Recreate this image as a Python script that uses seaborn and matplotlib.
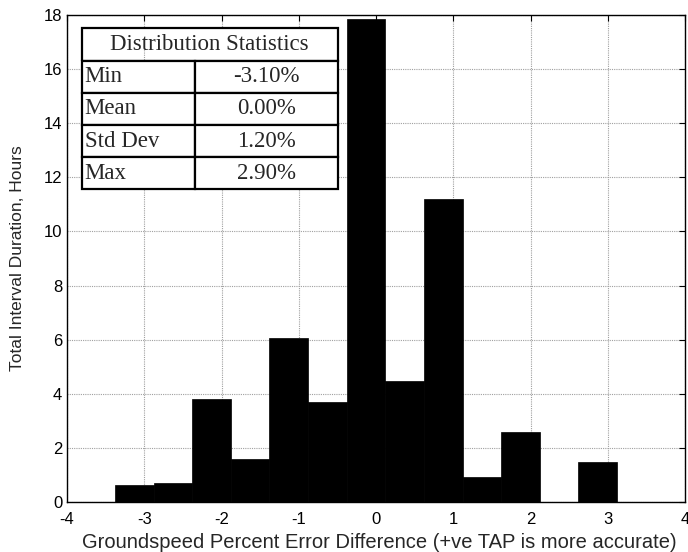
import numpy as np
import pandas as pd
import matplotlib
matplotlib.use("Agg")
import matplotlib.pyplot as plt
import seaborn as sns

# Histogram bins (percent error difference) and duration per bin (hours)
bin_centers = [-3.13, -2.63, -2.13, -1.63, -1.13, -0.63, -0.13, 0.37, 0.87, 1.37, 1.87, 2.37, 2.87]
hours = [0.64, 0.69, 3.80, 1.59, 6.07, 3.70, 17.85, 4.48, 11.21, 0.91, 2.58, 0.0, 1.47]
bin_edges = [-3.38, -2.88, -2.38, -1.88, -1.38, -0.88, -0.38, 0.12, 0.62, 1.12, 1.62, 2.12, 2.62, 3.12]

# Table contents
stat_names = ["Min", "Mean", "Std Dev", "Max"]
stat_values = ["-3.10%", "0.00%", "1.20%", "2.90%"]
table_title = "Distribution Statistics"

x_ticks = [-4, -3, -2, -1, 0, 1, 2, 3, 4]
y_ticks = [0, 2, 4, 6, 8, 10, 12, 14, 16, 18]

SERIF = ["Liberation Serif", "DejaVu Serif"]


def main():
    sns.set_style("white")
    plt.rcParams["font.family"] = ["Liberation Sans", "DejaVu Sans"]

    df = pd.DataFrame({"diff": bin_centers, "hours": hours})

    fig = plt.figure(figsize=(6.88, 5.52), dpi=100)
    ax = fig.add_axes([67 / 688, 50 / 552, 618 / 688, 487 / 552])

    sns.histplot(data=df, x="diff", weights="hours", bins=bin_edges,
                 color="black", edgecolor="black", linewidth=0.5,
                 alpha=1.0, ax=ax, zorder=3)

    ax.set_xlim(-4, 4)
    ax.set_ylim(0, 18)
    ax.set_xticks(x_ticks)
    ax.set_yticks(y_ticks)
    ax.set_xticklabels([str(t) for t in x_ticks], fontsize=12)
    ax.set_yticklabels([str(t) for t in y_ticks], fontsize=12)
    ax.tick_params(direction="in", length=4, width=0.8, top=True, right=True,
                   colors="black")
    ax.tick_params(axis="x", pad=7.5)
    ax.tick_params(axis="y", pad=3.5)
    ax.grid(True, linestyle=(0, (1, 1)), color="#a0a0a0", linewidth=0.8, zorder=0)
    ax.set_axisbelow(True)
    for side in ax.spines.values():
        side.set_visible(True)
        side.set_color("black")
        side.set_linewidth(1.0)

    ax.set_xlabel("Groundspeed Percent Error Difference (+ve TAP is more accurate)",
                  fontsize=14.5)
    ax.xaxis.set_label_coords(0.505, -40 / 487, transform=ax.transAxes)
    ax.xaxis.label.set_va("center")
    ax.set_ylabel("Total Interval Duration, Hours", fontsize=12.5)
    ax.yaxis.set_label_coords(-49 / 618, 0.5, transform=ax.transAxes)
    ax.yaxis.label.set_va("center")

    # Statistics table in the top-left corner
    tx, ty, tw, th = 0.0238, 0.642, 0.4142, 0.3306
    cell_text = [[table_title, ""]] + [[n, v] for n, v in zip(stat_names, stat_values)]
    tbl = ax.table(cellText=cell_text, colWidths=[0.4426 * tw, 0.5574 * tw],
                   bbox=[tx, ty, tw, th], zorder=5)
    tbl.auto_set_font_size(False)
    for (r, c), cell in tbl.get_celld().items():
        cell.set_linewidth(1.6)
        cell.set_edgecolor("black")
        cell.set_facecolor("white")
        txt = cell.get_text()
        txt.set_fontfamily(SERIF)
        txt.set_fontsize(16.5)
        if r == 0:
            cell.visible_edges = "BLT" if c == 0 else "BRT"
            txt.set_text("")
        elif c == 0:
            txt.set_ha("left")
            cell.PAD = 0.025
        else:
            txt.set_ha("center")
            cell._loc = "center"
    ax.text(tx + tw / 2, ty + th * 0.9, table_title,
            transform=ax.transAxes, ha="center", va="center", fontsize=16.5,
            family=SERIF, zorder=6)

    fig.savefig("out.png", dpi=100)


if __name__ == "__main__":
    main()
